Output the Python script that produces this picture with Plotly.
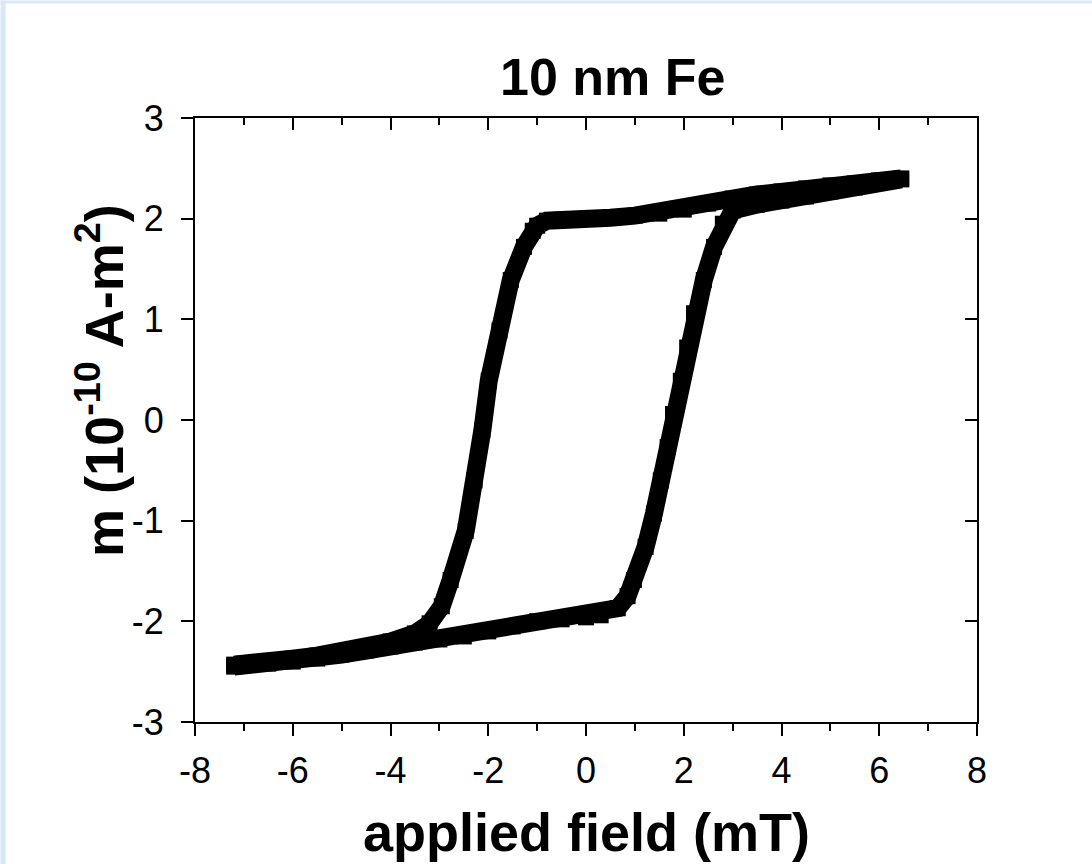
import plotly.graph_objects as go

# Descending branch (field swept from +6.5 mT down to -7.2 mT)
field_down = [6.45, 6.0, 5.5, 5.0, 4.5, 4.0, 3.5, 3.0, 2.5, 2.0, 1.5, 1.0, 0.5, 0.0, -0.5,
              -0.8, -1.0, -1.09, -1.27, -1.54, -1.77, -1.99, -2.12, -2.28, -2.46, -2.77,
              -2.95, -3.2, -3.5, -4.0, -4.5, -5.0, -5.5, -6.0, -6.5, -7.0, -7.2]
m_down = [2.40, 2.38, 2.35, 2.33, 2.30, 2.27, 2.24, 2.20, 2.15, 2.09, 2.05, 2.03, 2.01, 2.00, 1.99,
          1.98, 1.93, 1.88, 1.72, 1.39, 0.89, 0.39, -0.10, -0.60, -1.10, -1.59,
          -1.85, -2.02, -2.12, -2.20, -2.26, -2.31, -2.34, -2.37, -2.40, -2.42, -2.43]

# Ascending branch (field swept from -7.2 mT up to +6.5 mT)
field_up = [-7.2, -6.5, -6.0, -5.5, -5.0, -4.5, -4.0, -3.5, -3.0, -2.5, -2.0, -1.5, -1.0, -0.5,
            0.0, 0.3, 0.65, 0.85, 0.98, 1.22, 1.39, 1.53, 1.67, 1.78, 1.94, 2.07, 2.21,
            2.41, 2.62, 2.80, 3.0, 3.5, 4.0, 4.5, 5.0, 5.5, 6.0, 6.45]
m_up = [-2.45, -2.42, -2.40, -2.37, -2.33, -2.29, -2.25, -2.21, -2.18, -2.15, -2.10, -2.05, -2.00, -1.98,
        -1.96, -1.94, -1.87, -1.75, -1.59, -1.26, -0.93, -0.60, -0.27, 0.06, 0.39, 0.72, 1.06,
        1.39, 1.72, 1.95, 2.08, 2.14, 2.18, 2.22, 2.27, 2.31, 2.36, 2.39]

x_ticks = [-8, -6, -4, -2, 0, 2, 4, 6, 8]
x_ticktext = ["-8", "-6", "-4", "-2", "0", "2", "4", "6", "8"]
y_ticks = [-3, -2, -1, 0, 1, 2, 3]
y_ticktext = ["-3", "-2", "-1", "0", "1", "2", "3"]
x_range = [-8, 8]
y_range = [-3, 3]

title_text = "<b>10 nm Fe</b>"
x_title = "<b>applied field (mT)</b>"
y_title = "<b>m (10<sup>-10</sup> A-m<sup>2</sup>)</b>"

W, H = 1092, 864
L, R, T, B = 194.5, 115.3, 117.5, 142.3
pw, ph = W - L - R, H - T - B

def px_x(p):
    return (p - L) / pw

def px_y(p):
    return (H - B - p) / ph

FONT = "Liberation Sans, Arial, sans-serif"

fig = go.Figure()
for fx, fm in ((field_down, m_down), (field_up, m_up)):
    fig.add_trace(go.Scatter(
        x=fx, y=fm, mode="lines+markers",
        line=dict(color="black", width=18),
        marker=dict(symbol="square", size=16, color="black"),
        showlegend=False, hoverinfo="skip"))
fig.add_trace(go.Scatter(x=[None], y=[None], xaxis="x2", yaxis="y2",
                         showlegend=False, hoverinfo="skip"))

common_minor = dict(ticklen=7, tickwidth=2, tickcolor="black", dtick=1, showgrid=False)
fig.update_layout(
    width=W, height=H,
    margin=dict(l=L, r=R, t=T, b=B, autoexpand=False),
    paper_bgcolor="white", plot_bgcolor="white",
    font=dict(family=FONT, color="black"),
    xaxis=dict(range=x_range, tickvals=x_ticks, ticktext=x_ticktext, ticks="outside",
               ticklen=12, tickwidth=2,
               tickcolor="black", showline=True, linecolor="black", linewidth=2,
               showgrid=False, zeroline=False, tickfont=dict(size=36, family=FONT),
               minor=dict(ticks="outside", **common_minor), ticklabelstandoff=4),
    yaxis=dict(range=y_range, tickvals=y_ticks, ticktext=y_ticktext, ticks="outside",
               ticklen=12, tickwidth=2,
               tickcolor="black", showline=True, linecolor="black", linewidth=2,
               showgrid=False, zeroline=False, tickfont=dict(size=36, family=FONT),
               minor=dict(ticks="outside", **common_minor), ticklabelstandoff=10),
    xaxis2=dict(range=x_range, tickvals=x_ticks, overlaying="x", side="top", anchor="y2",
                ticks="inside", ticklen=12, tickwidth=2, tickcolor="black",
                showline=True, linecolor="black", linewidth=2, showticklabels=False,
                showgrid=False, zeroline=False,
                minor=dict(ticks="inside", **common_minor)),
    yaxis2=dict(range=y_range, tickvals=y_ticks, overlaying="y", side="right", anchor="x2",
                ticks="inside", ticklen=12, tickwidth=2, tickcolor="black",
                showline=True, linecolor="black", linewidth=2, showticklabels=False,
                showgrid=False, zeroline=False,
                minor=dict(ticks="inside", **common_minor)),
    shapes=[
        dict(type="rect", xref="paper", yref="paper", x0=px_x(0), x1=px_x(5),
             y0=px_y(H), y1=px_y(0), fillcolor="#d9e8f8", line=dict(width=0), layer="below"),
        dict(type="rect", xref="paper", yref="paper", x0=px_x(0), x1=px_x(W),
             y0=px_y(3), y1=px_y(0), fillcolor="#d9e8f8", line=dict(width=0), layer="below"),
    ],
    annotations=[
        dict(text=title_text, xref="paper", yref="paper", x=px_x(612), y=px_y(76),
             xanchor="center", yanchor="middle", showarrow=False,
             font=dict(size=52, family=FONT, color="black")),
        dict(text=x_title, xref="paper", yref="paper", x=px_x(586), y=px_y(832),
             xanchor="center", yanchor="middle", showarrow=False,
             font=dict(size=54, family=FONT, color="black")),
        dict(text=y_title, xref="paper", yref="paper", x=px_x(100), y=px_y(380),
             xanchor="center", yanchor="middle", showarrow=False, textangle=-90,
             font=dict(size=54, family=FONT, color="black")),
    ],
)

fig.write_html("out.html", config={"displayModeBar": False},
               post_script="document.body.style.margin='0px';")
